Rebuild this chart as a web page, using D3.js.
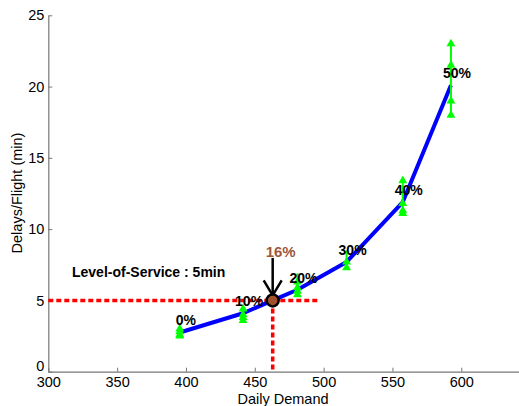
<!DOCTYPE html>
<html><head><meta charset="utf-8">
<script src="https://cdn.jsdelivr.net/npm/d3@7/dist/d3.min.js"></script>
<style>body{margin:0;background:#fff}svg{display:block;font-family:"Liberation Sans",Arial,sans-serif}</style>
</head><body>
<svg id="c" width="519" height="406"></svg>
<script>
const labels = ["0%","10%","20%","30%","40%","50%"];
const demand = [395.5, 441.5, 481, 516.7, 557.5, 592.5];
const delay  = [2.75, 4.1, 5.75, 7.7, 11.9, 20.1];
const barLo  = [2.5, 3.6, 5.4, 7.2, 11.1, 18.0];
const barHi  = [3.1, 4.4, 6.9, 8.5, 13.4, 23.0];
const samples = [[3.0,2.8,2.6,2.5],[4.4,4.0,3.8,3.6],[6.3,5.9,5.65,5.4],[7.7,7.3],[13.4,11.8,11.3,11.1],[23.0,21.5,19.0,18.0]];
const curveDemand = [395.5, 441.5, 463, 481, 516.7, 557.5, 592.5];
const curveDelay  = [2.75, 4.1, 5.0, 5.75, 7.7, 11.9, 20.1];
const losValue = 5, losDemand = 463, losLabel = "16%";
const xTicks = [300,350,400,450,500,550,600];
const yTicks = [0,5,10,15,20,25];

const svg = d3.select("#c");
const x = d3.scaleLinear().domain([300,650]).range([48.3,530.1]);
const y = d3.scaleLinear().domain([0,25]).range([371.7,15.3]);
const axisCol = "#777";

const gx = svg.append("g").attr("transform",`translate(0,${y(0)})`)
  .call(d3.axisBottom(x).tickValues(xTicks).tickSizeInner(-4).tickSizeOuter(0).tickPadding(5));
const gy = svg.append("g").attr("transform",`translate(${x(300)},0)`)
  .call(d3.axisLeft(y).tickValues(yTicks).tickSizeInner(-4).tickSizeOuter(0).tickPadding(4));
[gx,gy].forEach(g=>{
  g.select(".domain").attr("stroke",axisCol).attr("stroke-width",1.2);
  g.selectAll(".tick line").attr("stroke",axisCol);
  g.selectAll(".tick text").attr("fill","#000").attr("font-size",14.5).attr("font-family","Liberation Sans, Arial, sans-serif");
});
gx.selectAll(".tick text").attr("dy","0.7em");
gy.selectAll(".tick text").filter(d=>d===0).attr("dy","-0.1em");

svg.append("text").attr("x",283).attr("y",404).attr("text-anchor","middle")
  .attr("font-size",14.5).text("Daily Demand");
svg.append("text").attr("transform","translate(22,193) rotate(-90)").attr("text-anchor","middle")
  .attr("font-size",14.5).text("Delays/Flight (min)");

// red dashed LOS lines
svg.append("line").attr("x1",x(300)).attr("x2",x(496)).attr("y1",y(losValue)).attr("y2",y(losValue))
  .attr("stroke","#ff0000").attr("stroke-width",3.5).attr("stroke-dasharray","5,3");
svg.append("line").attr("x1",x(losDemand)).attr("x2",x(losDemand)).attr("y1",y(losValue)).attr("y2",y(0))
  .attr("stroke","#ff0000").attr("stroke-width",3.5).attr("stroke-dasharray","5,3");

// blue curve
const pts = curveDemand.map((d,i)=>[d,curveDelay[i]]);
svg.append("path").datum(pts)
  .attr("d", d3.line().x(d=>x(d[0])).y(d=>y(d[1])).curve(d3.curveLinear))
  .attr("fill","none").attr("stroke","#0000ff").attr("stroke-width",4).attr("stroke-linejoin","round");

// green bars
const tri = d3.symbol().type(d3.symbolTriangle).size(34);
demand.forEach((d,i)=>{
  svg.append("line").attr("x1",x(d)).attr("x2",x(d)).attr("y1",y(barLo[i])).attr("y2",y(barHi[i]))
    .attr("stroke","#00ff00").attr("stroke-width",2);
  samples[i].forEach(v=>{
    svg.append("path").attr("d",tri).attr("transform",`translate(${x(d)},${y(v)})`).attr("fill","#00ff00");
  });
});

// labels
labels.forEach((t,i)=>{
  svg.append("text").attr("x",x(demand[i])+6).attr("y",y(delay[i])-7).attr("text-anchor","middle")
    .attr("font-size",14).attr("font-weight","bold").text(t);
});

svg.append("text").attr("x",72).attr("y",277).attr("font-size",14).attr("font-weight","bold")
  .text("Level-of-Service : 5min");

// LOS point
const px = x(losDemand), py = y(losValue);
svg.append("line").attr("x1",px).attr("x2",px).attr("y1",258).attr("y2",py-3)
  .attr("stroke","#000").attr("stroke-width",2.5);
svg.append("path").attr("d",`M${px-9},${py-20}L${px},${py-5}L${px+9},${py-20}`)
  .attr("fill","none").attr("stroke","#000").attr("stroke-width",2.5);
svg.append("circle").attr("cx",px).attr("cy",py).attr("r",6)
  .attr("fill","#a0522d").attr("stroke","#000").attr("stroke-width",2.5);
svg.append("text").attr("x",px+8).attr("y",257).attr("text-anchor","middle")
  .attr("font-size",15).attr("font-weight","bold").attr("fill","#a0573c").text(losLabel);
</script>
</body></html>
